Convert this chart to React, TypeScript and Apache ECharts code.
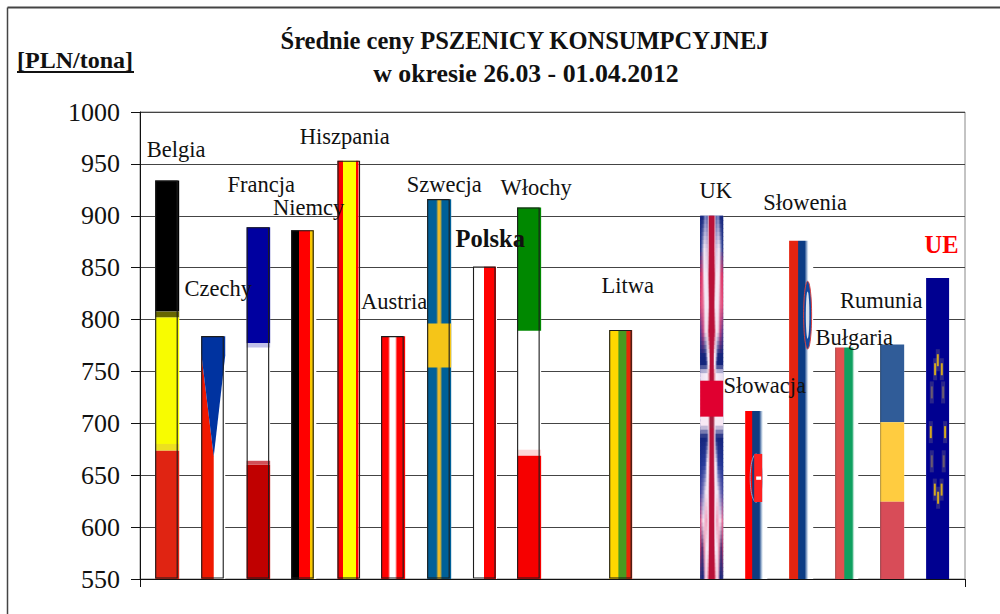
import React, { useEffect, useRef } from "react";
import * as echarts from "echarts";

const FONT = '"Liberation Serif", "Times New Roman", serif';

const CATEGORIES = ["Belgia", "Czechy", "Francja", "Niemcy", "Hiszpania", "Austria", "Szwecja", "Polska", "Włochy", "", "Litwa", "", "UK", "Słowacja", "Słowenia", "Bułgaria", "Rumunia", "UE"];
const VALUES = [934, 784, 889, 886, 953, 784, 916, 851, 908, null, 790, null, 900, 712, 876, 773, 776, 840];
const Y_MIN = 550;
const Y_MAX = 1000;
const Y_STEP = 50;
const TITLE_LINES = ["Średnie ceny PSZENICY KONSUMPCYJNEJ", "w okresie 26.03 - 01.04.2012"];
const UNIT = "[PLN/tona]";

type Stop = [number, string];
type Layer = {
  y0?: number; y1?: number; x0?: number; x1?: number; fill?: string; stops?: Stop[];
  pts?: [number, number][];
  ell?: [number, number, number, number]; stroke?: string;
  star?: [number, number, boolean];
};
type Flag = { dx: number; w: number; outline: boolean; layers: Layer[] };

const band = (y0: number, y1: number, fill: string, extra: Partial<Layer> = {}): Layer => ({ y0, y1, fill, ...extra });
const stripes = (stops: Stop[], extra: Partial<Layer> = {}): Layer => ({ stops, ...extra });

// The stretched Union Jack picture: a blurred texture, described by rows of its
// left half (it is close to symmetric) and blended between the rows.
const N = "#14247c";
const W = "#f4e8f4";
const P = "#e04070";
const R = "#b81038";
const UK_W = 23;
const UK_ROWS: [number, Stop[]][] = [
  [0.0, [[0, N], [3, N], [5, "#8088c8"], [7, "#5060a8"], [8.5, "#f0b0c0"], [10, R]]],
  [0.09, [[0, N], [1.5, "#5060a8"], [4, W], [7, "#d0c0e0"], [8.5, "#f0b0c0"], [10, R]]],
  [0.165, [[0, "#d83060"], [2, P], [4, W], [7.5, W], [9, R]]],
  [0.245, [[0, P], [3, "#e87098"], [5, W], [8, W], [9.5, R]]],
  [0.32, [[0, "#4a3c90"], [3, "#c04080"], [5, "#f0d0e0"], [7, W], [9, R]]],
  [0.385, [[0, N], [5.5, N], [7.5, W], [9, W], [10, R]]],
  [0.41, [[0, N], [6.5, N], [8, W], [9, W], [10, R]]],
  [0.435, [[0, "#e8dcf0"], [7, "#f8f0f8"], [9, "#e08090"], [10, R]]],
  [0.575, [[0, "#f8e8f4"], [8, "#f8e8f4"], [10, "#a02040"]]],
  [0.61, [[0, N], [7, N], [8.5, W], [10, R]]],
  [0.685, [[0, "#1c3090"], [5, "#3040a0"], [7, W], [8.5, W], [10, R]]],
  [0.76, [[0, "#3a3c98"], [3, "#8080c0"], [5.5, W], [8, W], [9.5, R]]],
  [0.84, [[0, "#e05080"], [3, W], [6.5, "#f090b0"], [8, W], [10, R]]],
  [0.915, [[0, "#d04070"], [2, "#402870"], [4, "#e080a0"], [6, W], [8, W], [9.5, R]]],
  [1.0, [[0, "#303880"], [3, N], [5, "#e8b0d0"], [6.5, W], [8, "#e06080"], [9.5, R]]],
];
const UK_SLICES = 90;

const rgb = (c: string) => [1, 3, 5].map((i) => parseInt(c.slice(i, i + 2), 16));
const mix = (a: number[], b: number[], t: number) => a.map((v, i) => v + (b[i] - v) * t);
const sampleRow = (row: Stop[], p: number): number[] => {
  if (p <= row[0][0]) return rgb(row[0][1]);
  for (let i = 1; i < row.length; i++) {
    if (p <= row[i][0]) return mix(rgb(row[i - 1][1]), rgb(row[i][1]), (p - row[i - 1][0]) / (row[i][0] - row[i - 1][0]));
  }
  return rgb(row[row.length - 1][1]);
};
const sampleUk = (f: number, p: number): number[] => {
  for (let i = 1; i < UK_ROWS.length; i++) {
    if (f <= UK_ROWS[i][0]) {
      const t = (f - UK_ROWS[i - 1][0]) / (UK_ROWS[i][0] - UK_ROWS[i - 1][0]);
      return mix(sampleRow(UK_ROWS[i - 1][1], p), sampleRow(UK_ROWS[i][1], p), t);
    }
  }
  return sampleRow(UK_ROWS[UK_ROWS.length - 1][1], p);
};
const ukLayers = (): Layer[] => {
  const out: Layer[] = [band(0, 1, N)];
  for (let i = 0; i < UK_SLICES; i++) {
    const f = (i + 0.5) / UK_SLICES;
    const stops: Stop[] = [];
    for (let p = 0; p <= UK_W; p++) {
      const c = sampleUk(f, Math.min(p, UK_W - p)).map(Math.round);
      stops.push([p, `rgb(${c[0]},${c[1]},${c[2]})`]);
    }
    out.push({ y0: i / UK_SLICES, y1: Math.min(1, (i + 1.3) / UK_SLICES), stops });
  }
  out.push({ pts: [[8.8, 0], [14.2, 0], [13, 0.46], [10, 0.46]], fill: R });
  out.push({ pts: [[10, 0.585], [13, 0.585], [14.2, 1], [8.8, 1]], fill: R });
  out.push(band(0.454, 0.553, "#e00030"));
  return out;
};

const FLAGS: Record<string, Flag> = {
  Belgia: { dx: -12, w: 24, outline: true, layers: [band(0, 0.329, "#000000"), band(0.329, 0.344, "#666600"), band(0.344, 0.661, "#f8fc00"), band(0.661, 0.678, "#ece020"), band(0.678, 1, "#e02412")] },
  Czechy: { dx: -11.3, w: 24, outline: true, layers: [
    { pts: [[0, 0.07], [12.5, 0.496], [12.5, 1], [0, 1]], fill: "#f01800" },
    { pts: [[0, 0], [24, 0], [24, 0.08], [12.5, 0.496], [0, 0.07]], fill: "#0033a0" },
  ] },
  Francja: { dx: -11.2, w: 23.5, outline: true, layers: [band(0, 0.33, "#0000a0"), band(0.33, 0.342, "#c0c0e8"), band(0.664, 0.675, "#d05058"), band(0.675, 1, "#c00000")] },
  Niemcy: { dx: -12, w: 25, outline: true, layers: [stripes([[0, "#000"], [8, "#000"], [8, "#ff0000"], [19, "#ff0000"], [19, "#f8c800"], [23, "#f8c800"], [23, "#fff"], [25, "#fff"]])] },
  Hiszpania: { dx: -11, w: 21, outline: true, layers: [stripes([[0, "#a00000"], [1, "#f00000"], [5.5, "#ff0000"], [5.5, "#ffff00"], [18, "#ffff00"], [18, "#ff0000"], [21, "#ff0000"]])] },
  Austria: { dx: -12.7, w: 24, outline: true, layers: [stripes([[0, "#ff0000"], [7, "#ff0000"], [9, "#ffffff"], [14, "#ffffff"], [16, "#ff0000"], [24, "#ff0000"]])] },
  Szwecja: { dx: -12, w: 24, outline: true, layers: [stripes([[0, "#006098"], [9, "#006098"], [11, "#e8b828"], [13, "#e8b828"], [15, "#006098"], [24, "#006098"]]), band(0.327, 0.443, "#f5c518")] },
  Polska: { dx: -11.5, w: 24, outline: true, layers: [stripes([[0, "#fff"], [11.3, "#fff"], [11.3, "#ff0000"], [23, "#ff0000"], [23, "#fff"], [24, "#fff"]])] },
  "Włochy": { dx: -12.7, w: 24, outline: true, layers: [band(0, 0.332, "#008800"), band(0.652, 0.668, "#fcd8d8"), band(0.668, 1, "#f60000")] },
  Litwa: { dx: -11.3, w: 23, outline: true, layers: [stripes([[0, "#ffd800"], [9, "#ffd800"], [9.5, "#4a9a20"], [17, "#4a9a20"], [17.5, "#e82808"], [23, "#e82808"]])] },
  UK: { dx: -11, w: UK_W, outline: false, layers: ukLayers() },
  "Słowacja": { dx: -11.3, w: 22, outline: false, layers: [
    stripes([[0, "#ff0000"], [6.5, "#ff0000"], [7.5, "#103c80"], [14, "#103c80"], [17, "#d8e4f0"], [18, "#ffffff"], [22, "#ffffff"]]),
    { ell: [11, 0.4, 6, 0.143], fill: "rgba(255,255,255,0)", stroke: "#8ea0c8" },
    band(0.256, 0.542, "#ff2020", { x0: 9, x1: 17 }),
    band(0.39, 0.41, "#ffffff", { x0: 11, x1: 16 }),
  ] },
  "Słowenia": { dx: -12.7, w: 24, outline: false, layers: [
    stripes([[0, "#e42410"], [8.5, "#e42410"], [9.5, "#0c3c84"], [15.5, "#0c3c84"], [18.5, "#d0dcec"], [19.5, "#ffffff"], [24, "#ffffff"]]),
    { ell: [18.5, 0.22, 4, 0.1], fill: "#1048a0", stroke: "#d84040" },
    { ell: [18.5, 0.22, 1.8, 0.07], fill: "#d8e0ec" },
  ] },
  "Bułgaria": { dx: -12, w: 23, outline: false, layers: [stripes([[0, "#983838"], [1.5, "#e05050"], [9, "#e05050"], [9.5, "#10a060"], [17, "#10a060"], [18.5, "#c8e8dc"], [19.5, "#ffffff"], [23, "#ffffff"]])] },
  Rumunia: { dx: -12.3, w: 24, outline: false, layers: [band(0, 0.332, "#305c98"), band(0.332, 0.671, "#ffcc40"), band(0.671, 1, "#d84c58"), stripes([[0, "rgba(0,0,0,0.4)"], [1.5, "rgba(0,0,0,0)"], [24, "rgba(0,0,0,0)"]])] },
  UE: { dx: -11.7, w: 23, outline: false, layers: [
    stripes([[0, "#000090"], [23, "#000090"]]),
    { star: [11.7, 0.273, true] }, { star: [9, 0.303, true] }, { star: [15.7, 0.303, true] },
    { star: [5.7, 0.38, false] }, { star: [17, 0.38, false] }, { star: [4.7, 0.512, true] }, { star: [19, 0.512, true] },
    { star: [5.7, 0.609, false] }, { star: [17.6, 0.609, false] }, { star: [8.7, 0.703, true] }, { star: [15.5, 0.703, true] }, { star: [12, 0.73, true] },
  ] },
};

const LABEL_OFFSETS: Record<string, [number, number]> = {
  Belgia: [9, -31], Czechy: [5.7, -48], Francja: [3.3, -43], Niemcy: [5.5, -23], Hiszpania: [-3.8, -24],
  Austria: [0.3, -35], Szwecja: [5, -15], Polska: [5.7, -28], "Włochy": [6.3, -20], Litwa: [7.2, -44],
  UK: [4.5, -25.5], "Słowacja": [8.2, -25], "Słowenia": [3.3, -38], "Bułgaria": [7, -10], Rumunia: [-11.3, -44], UE: [3.8, -34],
};

const POINTS = CATEGORIES.map((c, i) => [i, VALUES[i]]).filter((d) => d[1] !== null);

function gradient(stops: Stop[], x0: number, x1: number) {
  const pos = stops.map(([p, color]) => ({ offset: Math.min(1, Math.max(0, (p - x0) / (x1 - x0))), color }));
  return new echarts.graphic.LinearGradient(0, 0, 1, 0, pos);
}

function renderBar(_: any, api: any) {
  const name = CATEGORIES[api.value(0)];
  const flag = FLAGS[name];
  const [cx, top] = api.coord([api.value(0), api.value(1)]);
  const base = api.coord([api.value(0), Y_MIN])[1];
  const left = cx + flag.dx;
  const h = base - top;
  const children: any[] = [
    { type: "rect", shape: { x: left, y: top, width: flag.w, height: h }, style: { fill: "#ffffff" } },
  ];
  for (const l of flag.layers) {
    if (l.pts) {
      children.push({ type: "polygon", shape: { points: l.pts.map(([x, f]) => [left + x, top + f * h]) }, style: { fill: l.fill } });
    } else if (l.ell) {
      children.push({ type: "ellipse", shape: { cx: left + l.ell[0], cy: top + l.ell[1] * h, rx: l.ell[2], ry: l.ell[3] * h }, style: { fill: l.fill, stroke: l.stroke, lineWidth: l.stroke ? 1 : 0 } });
    } else if (l.star) {
      const [sx, sf, bright] = l.star;
      const sy = top + sf * h;
      children.push({ type: "rect", shape: { x: left + sx - 2, y: sy - 11, width: 4, height: 22 }, style: { fill: "rgba(120,110,130,0.35)" } });
      children.push({ type: "rect", shape: { x: left + sx - 1, y: sy - 6, width: 2, height: 12 }, style: { fill: bright ? "#d4a820" : "#6a5a70" } });
    } else {
      const x0 = l.x0 ?? 0;
      const x1 = l.x1 ?? flag.w;
      const y0 = l.y0 ?? 0;
      const y1 = l.y1 ?? 1;
      children.push({
        type: "rect",
        shape: { x: left + x0, y: top + y0 * h, width: x1 - x0, height: (y1 - y0) * h },
        style: { fill: l.stops ? gradient(l.stops, x0, x1) : l.fill },
      });
    }
  }
  if (flag.outline) {
    children.push({
      type: "rect",
      shape: { x: left + 0.5, y: top + 0.5, width: 21.5, height: h - 1.5 },
      style: { fill: "none", stroke: "#1c1c1c", lineWidth: 1.1 },
    });
  }
  return { type: "group", children };
}

function renderLabel(_: any, api: any) {
  const name = CATEGORIES[api.value(0)];
  const [cx, top] = api.coord([api.value(0), api.value(1)]);
  const [dx, dy] = LABEL_OFFSETS[name];
  const bold = name === "Polska" || name === "UE";
  return {
    type: "text",
    style: {
      text: name, x: cx + dx, y: top + dy, align: "center", verticalAlign: "middle",
      fontFamily: FONT, fontSize: bold ? 24.5 : 22.5, fontWeight: bold ? "bold" : "normal",
      fill: name === "UE" ? "#ff0000" : "#111111",
    },
  };
}

export default function App() {
  const ref = useRef<HTMLDivElement>(null);
  useEffect(() => {
    document.body.style.margin = "0";
    const chart = echarts.init(ref.current!, null, { renderer: "svg" });
    chart.setOption({
      animation: false,
      backgroundColor: "#ffffff",
      title: [
        { text: TITLE_LINES[0], left: 519.5, top: 19, textAlign: "center", textStyle: { fontFamily: FONT, fontSize: 24.5, fontWeight: "bold", color: "#111111", lineHeight: 33 } },
        { text: TITLE_LINES[1], left: 521, top: 52, textAlign: "center", textStyle: { fontFamily: FONT, fontSize: 25.8, fontWeight: "bold", color: "#111111", lineHeight: 33 } },
      ],
      grid: { left: 140, right: 35, top: 112, height: 467, show: true, borderColor: "#888888", borderWidth: 1, backgroundColor: "#ffffff" },
      xAxis: {
        type: "value", min: -0.6, max: 17.6,
        splitLine: { show: false },
        axisLabel: { show: false },
        axisLine: { show: true, onZero: false, lineStyle: { color: "#111111", width: 1 } },
        axisTick: { show: true, length: 8, customValues: [-0.6, 17.6], lineStyle: { color: "#111111" } },
      },
      yAxis: {
        type: "value", min: Y_MIN, max: Y_MAX, interval: Y_STEP,
        splitLine: { show: true, lineStyle: { color: "#444444", width: 1 } },
        axisLine: { show: true, onZero: false, lineStyle: { color: "#111111", width: 1 } },
        axisTick: { show: true, length: 9, lineStyle: { color: "#111111" } },
        axisLabel: { margin: 20, fontFamily: FONT, fontSize: 26, color: "#111111", formatter: (v: number) => String(v) },
      },
      graphic: [
        { type: "line", shape: { x1: 7.5, y1: 7.5, x2: 1000, y2: 7.5 }, style: { stroke: "#444444", lineWidth: 2 } },
        { type: "line", shape: { x1: 7.5, y1: 7.5, x2: 7.5, y2: 614 }, style: { stroke: "#444444", lineWidth: 1.5 } },
        { type: "text", x: 17, y: 60, style: { text: UNIT, fontFamily: FONT, fontSize: 24, fontWeight: "bold", fill: "#111111", align: "left", verticalAlign: "middle" } },
        { type: "rect", shape: { x: 17, y: 71, width: 117, height: 2 }, style: { fill: "#111111" } },
      ],
      series: [
        { type: "custom", coordinateSystem: "cartesian2d", data: POINTS, renderItem: renderBar, encode: { x: 0, y: 1 }, z: 3, clip: false },
        { type: "custom", coordinateSystem: "cartesian2d", data: POINTS, renderItem: renderLabel, encode: { x: 0, y: 1 }, z: 5, clip: false },
      ],
    });
    return () => chart.dispose();
  }, []);
  return <div ref={ref} style={{ width: 1000, height: 614 }} />;
}
